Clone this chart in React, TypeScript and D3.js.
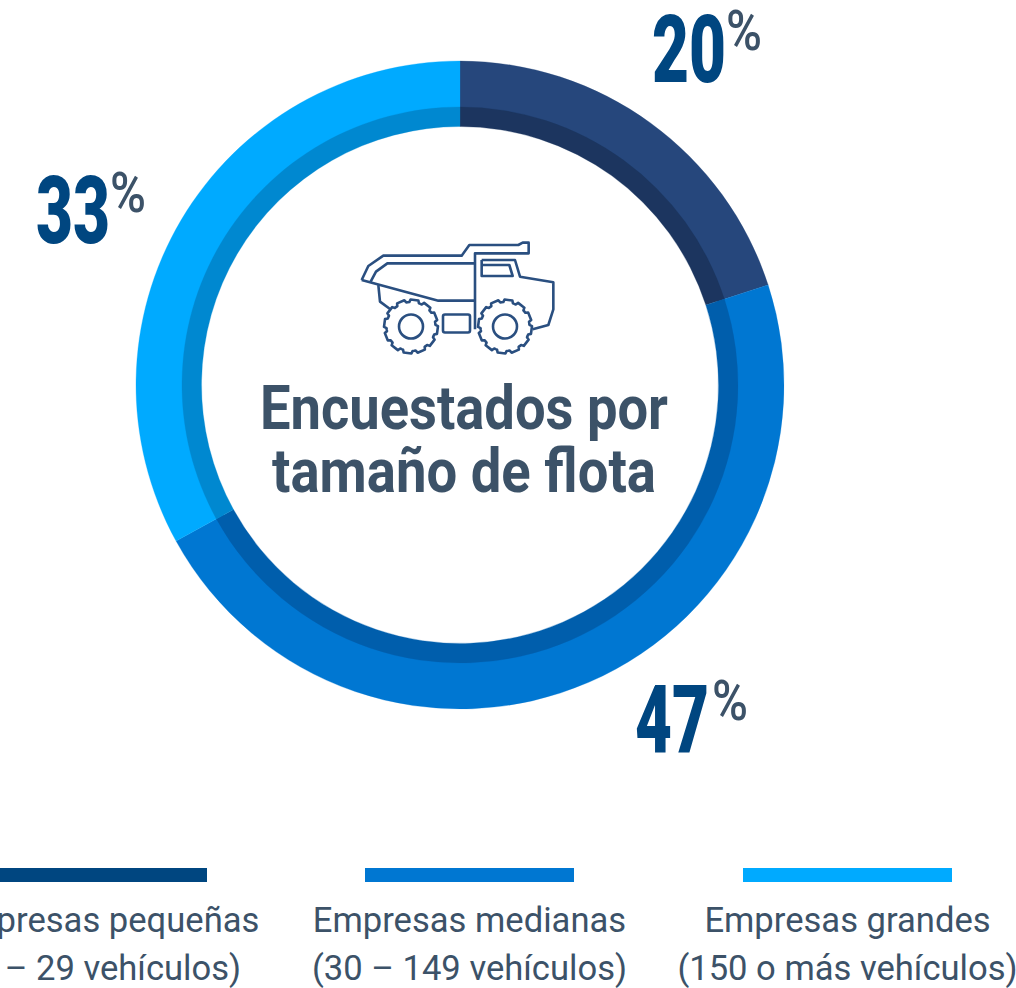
import React from "react";
import * as d3 from "d3";

const shares = [20, 47, 33];
const outerColours = ["#26477c", "#0077d2", "#00aaff"];
const innerColours = ["#1c355f", "#005eac", "#0088d0"];
const legendColours = ["#004680", "#0077d2", "#00aaff"];
const legendTop = ["Empresas pequeñas", "Empresas medianas", "Empresas grandes"];
const legendBottom = ["(1 – 29 vehículos)", "(30 – 149 vehículos)", "(150 o más vehículos)"];
const titleLines = ["Encuestados por", "tamaño de flota"];

const cx = 460, cy = 385;
const label = [
  { x: 652, y: 82, px: 726, py: 50 },
  { x: 635, y: 752, px: 712, py: 720 },
  { x: 36, y: 243, px: 110, py: 212 },
];
const legendCentres = [103, 469.5, 847.5];
const textC = "#3c5268";

function gear(x: number, y: number) {
  const teeth = 12, pts: string[] = [];
  for (let i = 0; i < teeth; i++) {
    const a = (i / teeth) * 2 * Math.PI + 0.13;
    const w = (2 * Math.PI) / teeth;
    const seq: [number, number][] = [[24.5, a - w * 0.5], [24.5, a - w * 0.38], [27, a - w * 0.28], [27, a + w * 0.28], [24.5, a + w * 0.38]];
    seq.forEach(([r, t]) => pts.push(`${x + r * Math.cos(t)},${y + r * Math.sin(t)}`));
  }
  return "M" + pts.join("L") + "Z";
}
const z = (x: number, y: number) => `${340 + x / 3},${230 + y / 3}`;
const poly = (p: [number, number][], close = false) => "M" + p.map(([a, b]) => z(a, b)).join("L") + (close ? "Z" : "");

const truckLines = [
  poly([[65, 150], [85, 108], [130, 77], [365, 77], [388, 45], [535, 45], [548, 38], [566, 38], [566, 70], [405, 70], [405, 298]]),
  poly([[92, 155], [108, 125], [142, 100], [405, 100]]),
  poly([[65, 150], [295, 212], [405, 212]]),
  poly([[115, 165], [120, 215], [150, 237]]),
  poly([[425, 90], [525, 90], [540, 140], [640, 157], [640, 238], [625, 285], [578, 298]]),
  poly([[425, 90], [425, 138], [518, 138], [508, 105], [425, 105]]),
];

export default function App() {
  const pie = d3.pie<number>().sort(null).value((d) => d)(shares);
  const outerArc = d3.arc<d3.PieArcDatum<number>>().innerRadius(270).outerRadius(324);
  const innerArc = d3.arc<d3.PieArcDatum<number>>().innerRadius(258.5).outerRadius(278);
  const font = "Roboto, sans-serif";
  return (
    <svg width={1016} height={988} style={{ position: "absolute", left: 0, top: 0, display: "block" }} fontFamily={font}>
      <g transform={`translate(${cx},${cy})`}>
        {pie.map((d, i) => (
          <path key={i} d={outerArc(d) ?? ""} fill={outerColours[i]} stroke={outerColours[i]} strokeWidth={0.3} />
        ))}
        {pie.map((d, i) => (
          <path key={i} d={innerArc(d) ?? ""} fill={innerColours[i]} stroke={innerColours[i]} strokeWidth={0.3} />
        ))}
      </g>
      {pie.map((d, i) => (
        <g key={i}>
          <text x={label[i].x} y={label[i].y} fontSize={95} fontWeight={900} fill="#004680" textLength={74} lengthAdjust="spacingAndGlyphs">{shares[i]}</text>
          <text x={label[i].px} y={label[i].py} fontSize={56} fontWeight={500} fill={textC} textLength={36} lengthAdjust="spacingAndGlyphs">%</text>
        </g>
      ))}
      <g fill="none" stroke="#2a4f80" strokeWidth={2.6} strokeLinejoin="round">
        {truckLines.map((d, i) => <path key={i} d={d} />)}
        <path d={gear(411, 326.5)} />
        <path d={gear(505, 326.5)} />
        <circle cx={411} cy={326.5} r={12} />
        <circle cx={505} cy={326.5} r={12} />
        <rect x={443} y={314.5} width={27} height={18} rx={2} />
      </g>
      <g fontWeight={700} fontSize={62} fill={textC} textAnchor="start">
        <text x={260} y={429} textLength={408} lengthAdjust="spacingAndGlyphs">{titleLines[0]}</text>
        <text x={272} y={492} textLength={384} lengthAdjust="spacingAndGlyphs">{titleLines[1]}</text>
      </g>
      {legendCentres.map((c, i) => (
        <g key={i}>
          <rect x={c - 105 + (i === 0 ? 0 : 0.5)} y={868} width={209} height={14} fill={legendColours[i]} />
          <text x={c} y={932} fontSize={34.6} fill={textC} textAnchor="middle">{legendTop[i]}</text>
          <text x={c} y={980} fontSize={34.6} fill={textC} textAnchor="middle">{legendBottom[i]}</text>
        </g>
      ))}
    </svg>
  );
}
